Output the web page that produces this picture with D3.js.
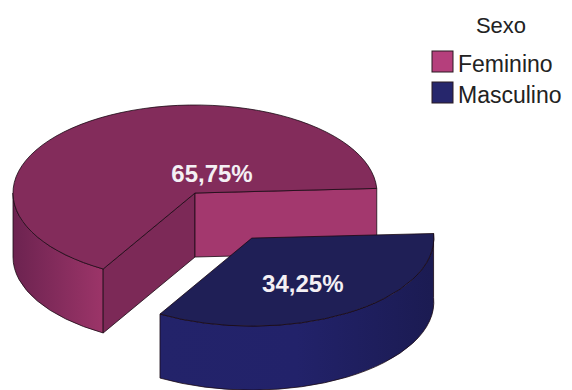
<!DOCTYPE html>
<html><head><meta charset="utf-8">
<script src="https://cdn.jsdelivr.net/npm/d3@7"></script>
<style>body{margin:0;background:#fff}svg{display:block}</style>
</head><body>
<script>
const categories = ["Feminino", "Masculino"];
const values = [65.75, 34.25];
const labels = ["65,75%", "34,25%"];
const legendTitle = "Sexo";

const W = 572, H = 390;
const svg = d3.select("body").append("svg").attr("width", W).attr("height", H);
const defs = svg.append("defs");

const cx = 195, cy = 193, rx = 182, ry = 88, depth = 64, explode = 0.6;
const topCol = {Feminino: "#832c5b", Masculino: "#1f1f56"};
const swatchCol = {Feminino: "#b53f7c", Masculino: "#26266c"};
const strokeCol = "#1a0a14";

// pie: Masculino first starting just above 3 o'clock, clockwise
const order = [1, 0];
const start = Math.PI / 2 - 3 * Math.PI / 180;
const pie = d3.pie().sort(null).value(i => values[i]).startAngle(start).endAngle(start + 2 * Math.PI);
const arcs = pie(order);

function pt(a, ox, oy, dz) { return [ox + rx * Math.sin(a), oy - ry * Math.cos(a) + (dz || 0)]; }
function topPath(a0, a1, ox, oy) {
  const p0 = pt(a0, ox, oy), p1 = pt(a1, ox, oy);
  const large = (a1 - a0) > Math.PI ? 1 : 0;
  return `M${ox},${oy}L${p0}A${rx},${ry} 0 ${large} 1 ${p1}Z`;
}
function sidePath(a0, a1, ox, oy) {
  const p0 = pt(a0, ox, oy), p1 = pt(a1, ox, oy), q1 = pt(a1, ox, oy, depth), q0 = pt(a0, ox, oy, depth);
  return `M${p0}A${rx},${ry} 0 0 1 ${p1}L${q1}A${rx},${ry} 0 0 0 ${q0}Z`;
}
function radialPath(a, ox, oy) {
  const p = pt(a, ox, oy), q = pt(a, ox, oy, depth);
  return `M${ox},${oy}L${p}L${q}L${ox},${oy + depth}Z`;
}
function grad(id, x1, x2, stops) {
  const g = defs.append("linearGradient").attr("id", id).attr("gradientUnits", "userSpaceOnUse")
    .attr("x1", x1).attr("x2", x2).attr("y1", 0).attr("y2", 0);
  stops.forEach(s => g.append("stop").attr("offset", s[0]).attr("stop-color", s[1]));
}

const fem = arcs.find(d => categories[d.data] === "Feminino");
const mas = arcs.find(d => categories[d.data] === "Masculino");

// Feminino (not exploded)
const fg = svg.append("g");
const frontEnd = 3 * Math.PI / 2;
grad("gFemSide", cx - rx, cx - rx + 92, [[0, "#6c2350"], [1, "#9d3569"]]);
fg.append("path").attr("d", sidePath(fem.startAngle, Math.min(fem.endAngle, frontEnd), cx, cy))
  .attr("fill", "url(#gFemSide)").attr("stroke", strokeCol).attr("stroke-width", 0.8);
fg.append("path").attr("d", radialPath(fem.startAngle, cx, cy))
  .attr("fill", "#7c2957").attr("stroke", strokeCol).attr("stroke-width", 0.8);
fg.append("path").attr("d", radialPath(fem.endAngle, cx, cy))
  .attr("fill", "#a3386e").attr("stroke", strokeCol).attr("stroke-width", 0.8);
fg.append("path").attr("d", topPath(fem.startAngle, fem.endAngle, cx, cy))
  .attr("fill", topCol.Feminino).attr("stroke", strokeCol).attr("stroke-width", 0.8);

// Masculino (exploded)
const mid = (mas.startAngle + mas.endAngle) / 2;
const mx = cx + explode * rx * Math.sin(mid), my = cy - explode * ry * Math.cos(mid);
const mg = svg.append("g");
grad("gMasSide", mx - 92, mx + rx, [[0, "#23236a"], [0.5, "#22226a"], [1, "#1b1b52"]]);
mg.append("path").attr("d", sidePath(mas.startAngle, mas.endAngle, mx, my))
  .attr("fill", "url(#gMasSide)").attr("stroke", strokeCol).attr("stroke-width", 0.8);
mg.append("path").attr("d", topPath(mas.startAngle, mas.endAngle, mx, my))
  .attr("fill", topCol.Masculino).attr("stroke", strokeCol).attr("stroke-width", 0.8);

// labels
const lbl = svg.append("g").attr("font-family", "Liberation Sans, Arial, sans-serif")
  .attr("font-weight", "bold").attr("font-size", 24).attr("fill", "#f4f0f4").attr("text-anchor", "middle");
lbl.append("text").attr("x", cx + 17).attr("y", cy - 11).text(labels[categories.indexOf("Feminino")]);
lbl.append("text").attr("x", mx + 51).attr("y", my + 54).text(labels[categories.indexOf("Masculino")]);

// legend
const lg = svg.append("g").attr("font-family", "Liberation Sans, Arial, sans-serif").attr("fill", "#222");
lg.append("text").attr("x", 501).attr("y", 33).attr("text-anchor", "middle").attr("font-size", 22).text(legendTitle);
categories.forEach((c, i) => {
  const y = 51 + i * 31;
  lg.append("rect").attr("x", 432).attr("y", y).attr("width", 21).attr("height", 21)
    .attr("fill", swatchCol[c]).attr("stroke", "#2a1a22").attr("stroke-width", 1);
  lg.append("text").attr("x", 458).attr("y", y + 21).attr("font-size", 23).text(c);
});
</script>
</body></html>
